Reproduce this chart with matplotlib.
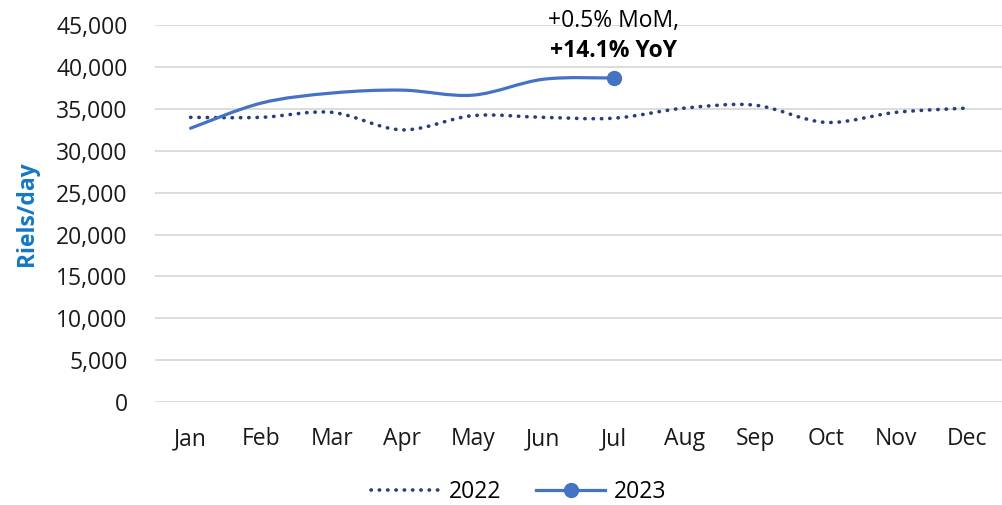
import numpy as np
import matplotlib.pyplot as plt
from matplotlib.path import Path
from matplotlib.patches import PathPatch
from matplotlib.lines import Line2D
from matplotlib.ticker import FuncFormatter

plt.rcParams['font.family'] = ['Open Sans', 'DejaVu Sans']

# DATA
months = ["Jan", "Feb", "Mar", "Apr", "May", "Jun", "Jul", "Aug", "Sep", "Oct", "Nov", "Dec"]
wage_2022 = [34000, 34000, 34600, 32500, 34200, 34000, 33900, 35100, 35450, 33400, 34600, 35100]
wage_2023 = [32700, 35700, 36900, 37250, 36650, 38550, 38700]
note_mom = "+0.5% MoM,"
note_yoy = "+14.1% YoY"

# COLOURS
c_2022 = '#24407A'
c_2023 = '#4472C4'
c_grid = '#D9D9D9'
fs = 16.5


# smoothed path like the spreadsheet's "smoothed line"
def smooth_path(xs, ys):
    pts = np.column_stack([xs, ys]).astype(float)
    n = len(pts)
    verts = [pts[0]]
    codes = [Path.MOVETO]
    for i in range(n - 1):
        p0 = pts[i - 1] if i > 0 else pts[i]
        p1 = pts[i]
        p2 = pts[i + 1]
        p3 = pts[i + 2] if i + 2 < n else pts[i + 1]
        c1 = p1 + (p2 - p0) / 6
        c2 = p2 - (p3 - p1) / 6
        verts += [c1, c2, p2]
        codes += [Path.CURVE4] * 3
    return Path(verts, codes)


dots = (0, (0.1, 2.2))

fig = plt.figure(figsize=(10.02, 5.05), dpi=100)
ax = fig.add_axes([0.155, 0.204, 0.845, 0.746])

x22 = np.arange(len(wage_2022))
x23 = np.arange(len(wage_2023))

ax.add_patch(PathPatch(smooth_path(x22, wage_2022), fill=False, edgecolor=c_2022,
                       lw=2.6, linestyle=dots, capstyle='round', zorder=3))
ax.add_patch(PathPatch(smooth_path(x23, wage_2023), fill=False, edgecolor=c_2023,
                       lw=2.3, capstyle='round', zorder=4))
ax.plot(x23[-1], wage_2023[-1], 'o', color=c_2023, ms=10, zorder=5)

ax.annotate(note_mom, (x23[-1], wage_2023[-1]), xytext=(0, 41), textcoords='offset points',
            ha='center', va='center', fontsize=fs, color='#000000', annotation_clip=False)
ax.annotate(note_yoy, (x23[-1], wage_2023[-1]), xytext=(0, 19.5), textcoords='offset points',
            ha='center', va='center', fontsize=fs, fontweight='bold', color='#000000',
            annotation_clip=False)

ax.set_xlim(-0.5, len(months) - 0.5)
ax.set_ylim(0, 45000)
ax.set_xticks(np.arange(len(months)))
ax.set_xticklabels(months)
ax.set_yticks(np.arange(0, 45001, 5000))
ax.yaxis.set_major_formatter(FuncFormatter(lambda v, p: f"{int(v):,}"))
ax.tick_params(axis='both', length=0, labelsize=fs, colors='#1a1a1a')
ax.tick_params(axis='x', pad=18)
ax.tick_params(axis='y', pad=20)
ax.grid(axis='y', color=c_grid, lw=1.3)
ax.set_axisbelow(True)
for s in ax.spines.values():
    s.set_visible(False)

ax.set_ylabel("Riels/day", fontsize=fs, fontweight='bold', color='#1478C8', labelpad=12)

handles = [Line2D([], [], color=c_2022, lw=2.6, linestyle=dots, dash_capstyle='round'),
           Line2D([], [], color=c_2023, lw=2.3, marker='o', ms=10)]
fig.legend(handles, ["2022", "2023"], loc='center', bbox_to_anchor=(0.518, 0.026), ncol=2,
           frameon=False, fontsize=fs, handlelength=3.0, columnspacing=1.5, handletextpad=0.4,
           markerfirst=True, borderpad=0, borderaxespad=0)

fig.savefig("out.png", dpi=100)
